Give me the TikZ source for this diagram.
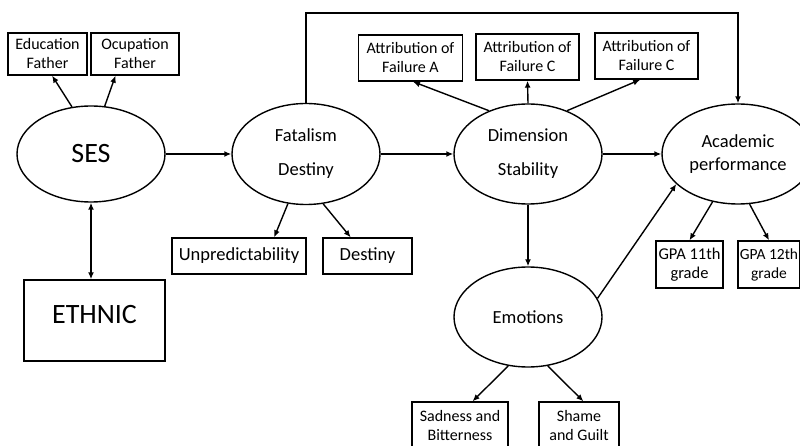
\documentclass[tikz,border=0pt]{standalone}
\usepackage{fontspec}
\setmainfont{Carlito}
\usepackage{tikz}
\usetikzlibrary{shapes.geometric,arrows.meta}

\begin{document}
\begin{tikzpicture}[x=1pt,y=-1pt,>={Latex[length=7pt,width=6pt]}]
            \tikzset{
            fam oval/.style={ellipse,draw,line width=1.4pt,inner sep=0,align=center,font=\fontsize{18.5}{23}\selectfont},
            fam box/.style={rectangle,draw,line width=1.4pt,inner sep=0,align=center,font=\fontsize{16}{19}\selectfont},
            fam edge/.style={->,line width=1.4pt}
            }
            \useasboundingbox (0,0) rectangle (800,446);
            \clip (0,0) rectangle (800,446);
            \node[fam oval,minimum width=148,minimum height=96,font=\fontsize{28}{32}\selectfont] (ses) at (91,154) {SES};
            \node[fam oval,minimum width=148,minimum height=101] (fat) at (306,154) {Fatalism\\[11pt]Destiny};
            \node[fam oval,minimum width=148,minimum height=100] (dim) at (528,154) {Dimension\\[11pt]Stability};
            \node[fam oval,minimum width=152,minimum height=100] (acad) at (738,154) {Academic\\performance};
            \node[fam oval,minimum width=148,minimum height=100] (emo) at (528,317) {Emotions};
            \node[fam box,minimum width=141,minimum height=81,text depth=13pt,font=\fontsize{28}{32}\selectfont] (eth) at (94.5,320.5) {ETHNIC};
            \node[fam box,minimum width=79,minimum height=42] (edu) at (47.5,54) {Education\\Father};
            \node[fam box,minimum width=88,minimum height=42] (ocu) at (135,54) {Ocupation\\Father};
            \node[fam box,minimum width=104,minimum height=46] (attA) at (410.5,58) {Attribution of\\Failure A};
            \node[fam box,minimum width=103,minimum height=46] (attC) at (527.5,57) {Attribution of\\Failure C};
            \node[fam box,minimum width=103,minimum height=46] (attD) at (646.5,56) {Attribution of\\Failure C};
            \node[fam box,minimum width=134,minimum height=36,font=\fontsize{18.5}{22}\selectfont] (unp) at (239,256) {Unpredictability};
            \node[fam box,minimum width=89,minimum height=36,font=\fontsize{18.5}{22}\selectfont] (des) at (367.5,256) {Destiny};
            \node[fam box,minimum width=67,minimum height=47,font=\fontsize{16.5}{19}\selectfont] (gpa1) at (689.5,264.5) {GPA 11th\\grade};
            \node[fam box,minimum width=62,minimum height=47,font=\fontsize{15.5}{19}\selectfont] (gpa2) at (769,264.5) {GPA 12th\\grade};
            \node[fam box,minimum width=96,minimum height=48] (sad) at (460,426) {Sadness and\\Bitterness};
            \node[fam box,minimum width=80,minimum height=48] (sha) at (579,426) {Shame\\and Guilt};
            \coordinate (top) at (306,13);

            \path[-,draw]
            (ses.112) edge[fam edge] (edu.-78)
            (ses.74) edge[fam edge] (ocu.-132)
            (ses.south) edge[fam edge,<->] (ses.south |- eth.north)
            (ses) edge[fam edge] (fat)
            (fat) edge[fam edge] (dim)
            (dim) edge[fam edge] (acad)
            (fat.-110) edge[fam edge] (unp.28)
            (fat.-71) edge[fam edge] (des.132)
            (dim.132) edge[fam edge] (attA.-84)
            (dim.north) edge[fam edge] (attC.south)
            (dim.48) edge[fam edge] (attD.-105)
            (dim.south) edge[fam edge] (emo.north)
            (emo.15) edge[fam edge] (acad.-154)
            (acad.-118) edge[fam edge] (gpa1.north)
            (acad.-77) edge[fam edge] (gpa2.north)
            (emo.-112) edge[fam edge] (sad.63)
            (emo.-68) edge[fam edge] (sha.80)
            ;
            \draw[fam edge] (fat.north) -- (top) -| (acad.north);
        \end{tikzpicture}
\end{document}
